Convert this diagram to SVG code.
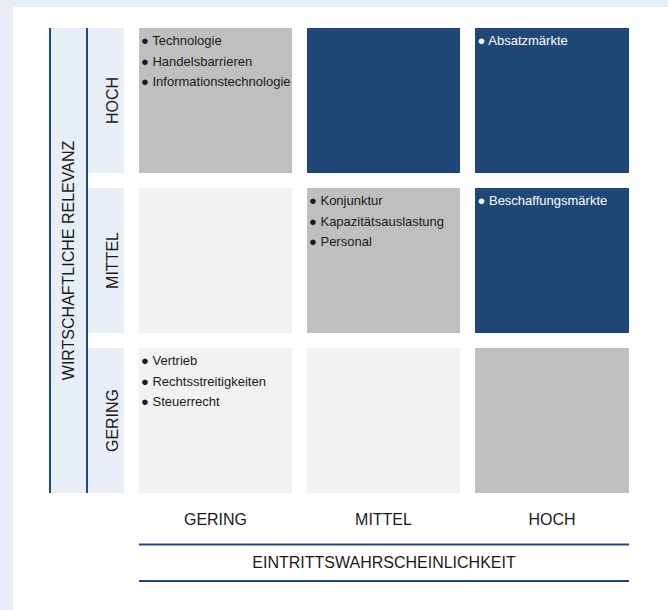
<svg xmlns="http://www.w3.org/2000/svg" width="668" height="610" viewBox="0 0 668 610">
<style>
text{font-family:"Liberation Sans",Arial,sans-serif;fill:#1a1a1a}
.b{font-size:13px}
.w{fill:#ffffff}
.lbl{font-size:16px;text-anchor:middle}
.hi{fill:#bfbfbf}
.lo{fill:#f2f2f2}
.dk{fill:#1f4778}
.ax{fill:#e8eef5}
.ln{stroke:#1f497d;stroke-width:2;fill:none}
</style>
<rect x="0" y="0" width="668" height="610" fill="#e8eef5"/>
<rect x="13" y="7" width="655" height="603" fill="#ffffff"/>

<g id="y-axis">
<rect class="ax" x="50" y="28" width="37" height="465"/>
<text class="lbl" transform="translate(73.5,260.5) rotate(-90)">WIRTSCHAFTLICHE RELEVANZ</text>
</g>
<g id="row-hoch"><rect class="ax" x="88" y="28" width="36" height="145"/><text class="lbl" transform="translate(117.5,100.5) rotate(-90)">HOCH</text></g>
<g id="row-mittel"><rect class="ax" x="88" y="188" width="36" height="145"/><text class="lbl" transform="translate(117.5,260.5) rotate(-90)">MITTEL</text></g>
<g id="row-gering"><rect class="ax" x="88" y="348" width="36" height="145"/><text class="lbl" transform="translate(117.5,420.5) rotate(-90)">GERING</text></g>

<g id="cell-hoch-gering"><rect class="hi" x="139" y="28" width="153" height="145"/>
<text class="b" x="141" y="45">● Technologie</text>
<text class="b" x="141" y="65.5">● Handelsbarrieren</text>
<text class="b" x="141" y="86">● Informationstechnologie</text></g>
<g id="cell-hoch-mittel"><rect class="dk" x="307" y="28" width="153" height="145"/></g>
<g id="cell-hoch-hoch"><rect class="dk" x="475" y="28" width="154" height="145"/>
<text class="b w" x="477.5" y="45">● Absatzmärkte</text></g>

<g id="cell-mittel-gering"><rect class="lo" x="139" y="188" width="153" height="145"/></g>
<g id="cell-mittel-mittel"><rect class="hi" x="307" y="188" width="153" height="145"/>
<text class="b" x="309" y="205">● Konjunktur</text>
<text class="b" x="309" y="225.5">● Kapazitätsauslastung</text>
<text class="b" x="309" y="246">● Personal</text></g>
<g id="cell-mittel-hoch"><rect class="dk" x="475" y="188" width="154" height="145"/>
<text class="b w" x="477.5" y="205">● Beschaffungsmärkte</text></g>

<g id="cell-gering-gering"><rect class="lo" x="139" y="348" width="153" height="145"/>
<text class="b" x="141" y="365">● Vertrieb</text>
<text class="b" x="141" y="385.5">● Rechtsstreitigkeiten</text>
<text class="b" x="141" y="406">● Steuerrecht</text></g>
<g id="cell-gering-mittel"><rect class="lo" x="307" y="348" width="153" height="145"/></g>
<g id="cell-gering-hoch"><rect class="hi" x="475" y="348" width="154" height="145"/></g>

<g id="x-axis">
<text class="lbl" x="215.5" y="524.5">GERING</text>
<text class="lbl" x="383.5" y="524.5">MITTEL</text>
<text class="lbl" x="552" y="524.5">HOCH</text>
<text class="lbl" x="384" y="568">EINTRITTSWAHRSCHEINLICHKEIT</text>
</g>

<g id="connectors">
<line class="ln" x1="50" y1="28" x2="50" y2="493"/>
<line class="ln" x1="87" y1="28" x2="87" y2="493"/>
<line class="ln" x1="139" y1="544.5" x2="629" y2="544.5"/>
<line class="ln" x1="139" y1="581" x2="629" y2="581"/>
</g>
</svg>
